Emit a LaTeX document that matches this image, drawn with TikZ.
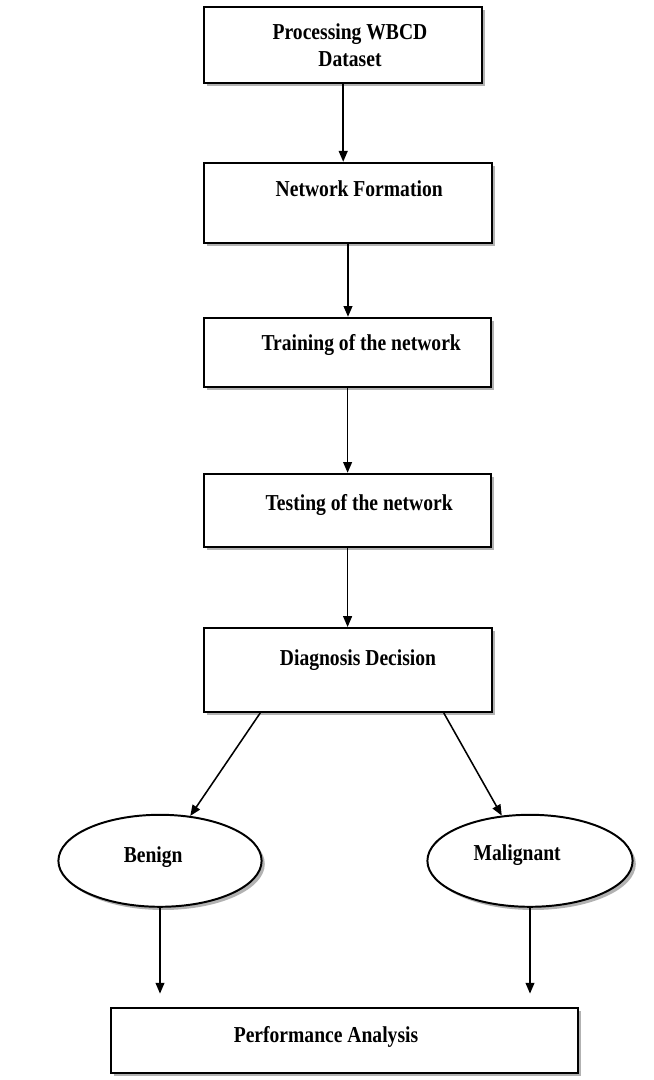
\documentclass[tikz,border=0pt]{standalone}
\usepackage{fontspec}
\setmainfont{Liberation Serif}[FakeStretch=0.86]
\usetikzlibrary{arrows.meta,shapes.geometric,shadows}

\begin{document}
\begin{tikzpicture}

\useasboundingbox (0,0) rectangle (16.35,27);

%%% Styles

\tikzstyle{stage}=[rectangle, draw, line width=1.4pt, fill=white,
  drop shadow={shadow xshift=0.08cm, shadow yshift=-0.08cm, fill=black!60}]
\tikzstyle{outcome}=[ellipse, draw, line width=1.4pt, fill=white,
  drop shadow={shadow xshift=0.08cm, shadow yshift=-0.08cm, fill=black!60}]
\tikzstyle{lbl}=[font=\fontsize{16.2}{19.1}\selectfont\bfseries, inner sep=0pt, anchor=base]
\tikzstyle{flow}=[-{Triangle[length=0.27cm, width=0.22cm]}, line width=1.1pt]


%%% Stages

\node (P) [stage, minimum width=6.95cm, minimum height=1.90cm] at (8.58, 25.88) {};
\node (N) [stage, minimum width=7.20cm, minimum height=2.00cm] at (8.70, 21.93) {};
\node (T) [stage, minimum width=7.18cm, minimum height=1.73cm] at (8.69, 18.19) {};
\node (S) [stage, minimum width=7.18cm, minimum height=1.83cm] at (8.69, 14.24) {};
\node (D) [stage, minimum width=7.20cm, minimum height=2.10cm] at (8.70, 10.25) {};

% Bottom box

\node (A) [stage, minimum width=11.68cm, minimum height=1.63cm] at (8.61, 0.99) {};


%%% Outcomes

\node (B) [outcome, minimum width=5.08cm, minimum height=2.30cm] at (4.00, 5.48) {};
\node (M) [outcome, minimum width=5.13cm, minimum height=2.30cm] at (13.25, 5.48) {};


%%% Labels

\node (Pt) [lbl, anchor=center, align=center] at (8.75, 25.87) {Processing WBCD\\Dataset};
\node (Nt) [lbl] at (8.98, 22.08) {Network Formation};
\node (Tt) [lbl] at (9.03, 18.23) {Training of the network};
\node (St) [lbl] at (8.98, 14.23) {Testing of the network};
\node (Dt) [lbl] at (8.95, 10.36) {Diagnosis Decision};
\node (Bt) [lbl] at (3.83, 5.43) {Benign};
\node (Mt) [lbl] at (12.93, 5.48) {Malignant};
\node (At) [lbl] at (8.15, 0.93) {Performance Analysis};


%%% Arrows

\draw [flow] (P.south) -- (P.south |- N.north);
\draw [flow] (N.south) -- (N.south |- T.north);
\draw [flow] (T.south) -- (T.south |- S.north);
\draw [flow] (S.south) -- (S.south |- D.north);

% Decision split

\draw [flow] ([xshift=1.43cm]D.south west) -- (B.56);
\draw [flow] ([xshift=-1.23cm]D.south east) -- (M.122);

% Into analysis

\draw [flow, shorten >=0.33cm] (B.south) -- (B.south |- A.north);
\draw [flow, shorten >=0.33cm] (M.south) -- (M.south |- A.north);

\end{tikzpicture}
\end{document}
